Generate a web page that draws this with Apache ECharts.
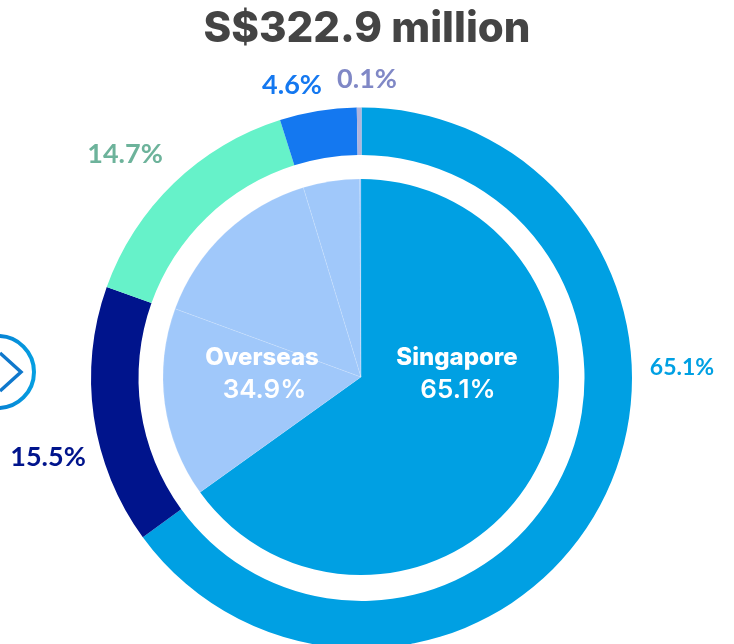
<!DOCTYPE html>
<html>
<head>
<meta charset="utf-8">
<style>html,body{margin:0;padding:0;background:#fff}#c{width:734px;height:644px}</style>
<script src="https://cdn.jsdelivr.net/npm/echarts@6/dist/echarts.min.js"></script>
</head>
<body>
<div id="c"></div>
<script>
const totalLabel = 'S$322.9 million';
const regionNames = ['Singapore', 'Overseas A', 'Overseas B', 'Overseas C', 'Overseas D'];
const shareValues = [65.1, 15.5, 14.7, 4.6, 0.1];
const ringColors = ['#00A0E3', '#00148C', '#66F2C9', '#1478F0', '#B0B4DC'];
const ringLabelColors = ['#00A0E3', '#00148C', '#6DB39B', '#1478F0', '#8088C6'];
const ringLabelAnchors = [[682, 368], [48, 457], [125, 154], [292, 85], [367, 79]];
const ringLabelSizes = [23, 27, 27, 27, 27];
const overseasLabel = 'Overseas';
const overseasTotal = 34.9;
const pieColors = ['#00A0E3', '#A0C8FA', '#A0C8FA', '#A0C8FA', '#A0C8FA'];

const chart = echarts.init(document.getElementById('c'), null, { renderer: 'canvas' });

const ringData = regionNames.map((name, i) => ({
  name,
  value: shareValues[i],
  itemStyle: { color: ringColors[i] },
  label: { color: ringLabelColors[i], fontSize: ringLabelSizes[i] }
}));

const innerData = regionNames.map((name, i) => ({
  name,
  value: shareValues[i],
  itemStyle: {
    color: pieColors[i],
    borderColor: i === 0 ? 'transparent' : 'rgba(255,255,255,0.22)',
    borderWidth: i === 0 ? 0 : 0.6
  }
}));

// Centre text sits above the pie slices.
const centerText = (text, x, y, font) => ({
  type: 'text',
  z: 10,
  x, y,
  style: { text, fill: '#fff', font, align: 'center', verticalAlign: 'middle' }
});

chart.setOption({
  animation: false,
  backgroundColor: '#fff',
  title: {
    text: totalLabel,
    left: 366,
    top: 3,
    textAlign: 'center',
    textStyle: { fontFamily: 'Inter', fontWeight: 800, fontSize: 42, color: '#444444' }
  },
  series: [
    {
      type: 'pie',
      center: [361.5, 378],
      radius: [223, 270.5],
      startAngle: 90,
      clockwise: true,
      minAngle: 1,
      silent: true,
      data: ringData,
      label: {
        show: true,
        position: 'outside',
        overflow: 'none',
        formatter: p => p.value.toFixed(1) + '%',
        fontFamily: 'Lato',
        fontWeight: 700
      },
      labelLine: { show: false },
      labelLayout: p => {
        const a = ringLabelAnchors[p.dataIndex];
        return { x: a[0], y: a[1], align: 'center', verticalAlign: 'middle' };
      }
    },
    {
      type: 'pie',
      center: [361, 377],
      radius: [0, 198],
      startAngle: 90,
      clockwise: true,
      silent: true,
      data: innerData,
      label: { show: false },
      labelLine: { show: false }
    }
  ],
  graphic: [
    centerText(regionNames[0], 457, 358, '800 24px Inter'),
    centerText(shareValues[0].toFixed(1) + '%', 458, 390, '600 26px Inter'),
    centerText(overseasLabel, 262, 358, '800 24px Inter'),
    centerText(overseasTotal.toFixed(1) + '%', 264.5, 390, '600 26px Inter'),
    {
      type: 'circle',
      shape: { cx: -2, cy: 372, r: 36 },
      style: {
        fill: 'none',
        lineWidth: 4,
        stroke: new echarts.graphic.LinearGradient(0, 0, 1, 0, [
          { offset: 0, color: '#0A63C4' },
          { offset: 1, color: '#05A0E2' }
        ])
      }
    },
    {
      type: 'polyline',
      shape: { points: [[0, 353], [21, 372], [0, 391]] },
      style: { fill: 'none', stroke: '#0F78CC', lineWidth: 3.5 }
    }
  ]
});
chart.setOption({ title: { left: 362 } });
</script>
</body>
</html>
